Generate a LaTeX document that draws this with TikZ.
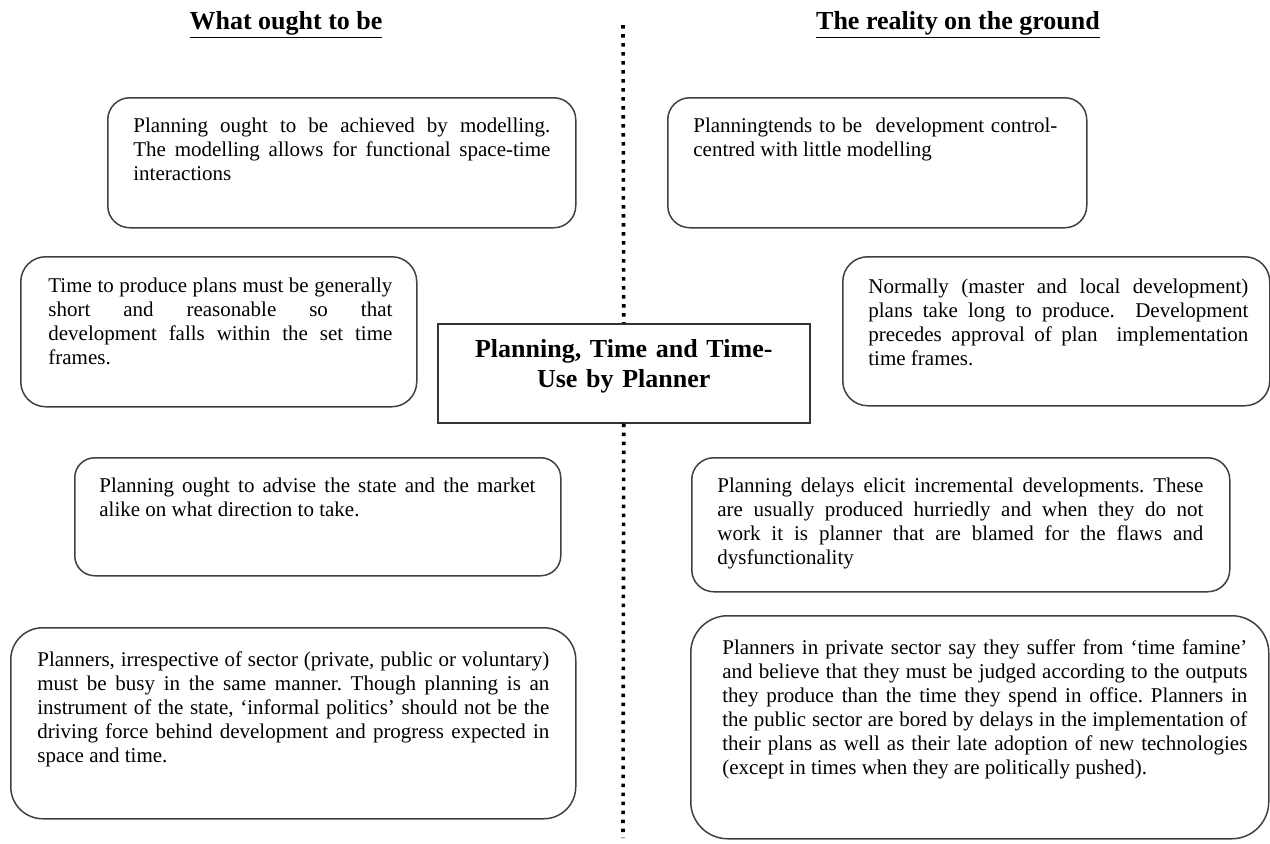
\documentclass[tikz,border=0pt]{standalone}
\usepackage{fontspec}
\setmainfont{Liberation Serif}
\hyphenpenalty=10000
\exhyphenpenalty=10000
\frenchspacing

\begin{document}
\begin{tikzpicture}[x=0.5pt, y=-0.5pt,
      card/.style={draw=black!75, line width=0.75pt, rounded corners=#1, anchor=north west, inner sep=0pt},
      txt/.style={anchor=base west, inner sep=0pt, align=justify, font=\fontsize{10.5}{12}\selectfont},
      hub/.style={draw=black!80, line width=0.75pt, anchor=north west, inner sep=0pt, minimum width=186pt, minimum height=49.5pt},
      head/.style={anchor=base, inner sep=0pt, font=\fontsize{13}{15}\selectfont\bfseries},
      divider/.style={line width=1.8pt, dash pattern=on 1.8pt off 2.7pt},
    ]
    \useasboundingbox (0,0) rectangle (1270,843);

    % Headings
    \node[head] (lhead) at (286,29) {\underline{What ought to be}};
    \node[head] (rhead) at (958,29) {\underline{The reality on the ground}};

    % Centre box and divider
    \node[hub] (hub) at (437,323) {};
    \node[head, text width=186pt, align=center] (hubtxt) at ([yshift=-17pt]hub.north) {Planning, Time and Time-\\Use by Planner};
    \coordinate (divtop) at (623,25);
    \coordinate (divbot) at (623,838);
    \draw[divider] (divtop) -- (hub.north);
    \draw[divider] (hub.south) -- (divbot);

    % What ought to be
    \node[card=11pt, minimum width=234pt, minimum height=65pt] (modelling) at (107,97) {};
    \node[txt, text width=208.5pt] (modellingtxt) at ([shift={(26,35)}]modelling.north west) {Planning ought to be achieved by modelling.\linebreak The modelling allows for functional space-time\linebreak interactions};

    \node[card=12.5pt, minimum width=198pt, minimum height=75pt] (timeframe) at (20,256) {};
    \node[txt, text width=172pt] (timeframetxt) at ([shift={(28,36)}]timeframe.north west) {Time to produce plans must be generally\linebreak short and reasonable so that\linebreak development falls within the set time\linebreak frames.};

    \node[card=10pt, minimum width=243pt, minimum height=59pt] (advice) at (74,457) {};
    \node[txt, text width=218pt] (advicetxt) at ([shift={(25,35)}]advice.north west) {Planning ought to advise the state and the market\linebreak alike on what direction to take.};

    \node[card=16pt, minimum width=282.5pt, minimum height=95.5pt] (busyness) at (10,627) {};
    \node[txt, text width=256pt] (busynesstxt) at ([shift={(27,39)}]busyness.north west) {Planners, irrespective of sector (private, public or voluntary)\linebreak must be busy in the same manner. Though planning is an\linebreak instrument of the state, ‘informal politics’ should not be the\linebreak driving force behind development and progress expected in\linebreak space and time.};

    % The reality on the ground
    \node[card=11pt, minimum width=209.5pt, minimum height=65pt] (devcontrol) at (667,97) {};
    \node[txt, text width=182pt] (devcontroltxt) at ([shift={(26,35)}]devcontrol.north west) {Planningtends to be\ \ development control-\linebreak centred with little modelling};

    \node[card=12.5pt, minimum width=213.5pt, minimum height=74.5pt] (longplans) at (842,256) {};
    \node[txt, text width=190pt] (longplanstxt) at ([shift={(26,37)}]longplans.north west) {Normally (master and local development)\linebreak plans take long to produce.\ \ Development\linebreak precedes approval of plan\ \ implementation\linebreak time frames.};

    \node[card=11pt, minimum width=269pt, minimum height=67pt] (delays) at (691,457) {};
    \node[txt, text width=243pt] (delaystxt) at ([shift={(26,35)}]delays.north west) {Planning delays elicit incremental developments. These\linebreak are usually produced hurriedly and when they do not\linebreak work it is planner that are blamed for the flaws and\linebreak dysfunctionality};

    \node[card=18.5pt, minimum width=289pt, minimum height=111.5pt] (famine) at (690,615) {};
    \node[txt, text width=262.5pt] (faminetxt) at ([shift={(32,39)}]famine.north west) {Planners in private sector say they suffer from ‘time famine’\linebreak and believe that they must be judged according to the outputs\linebreak they produce than the time they spend in office. Planners in\linebreak the public sector are bored by delays in the implementation of\linebreak their plans as well as their late adoption of new technologies\linebreak (except in times when they are politically pushed).};
  \end{tikzpicture}
\end{document}
